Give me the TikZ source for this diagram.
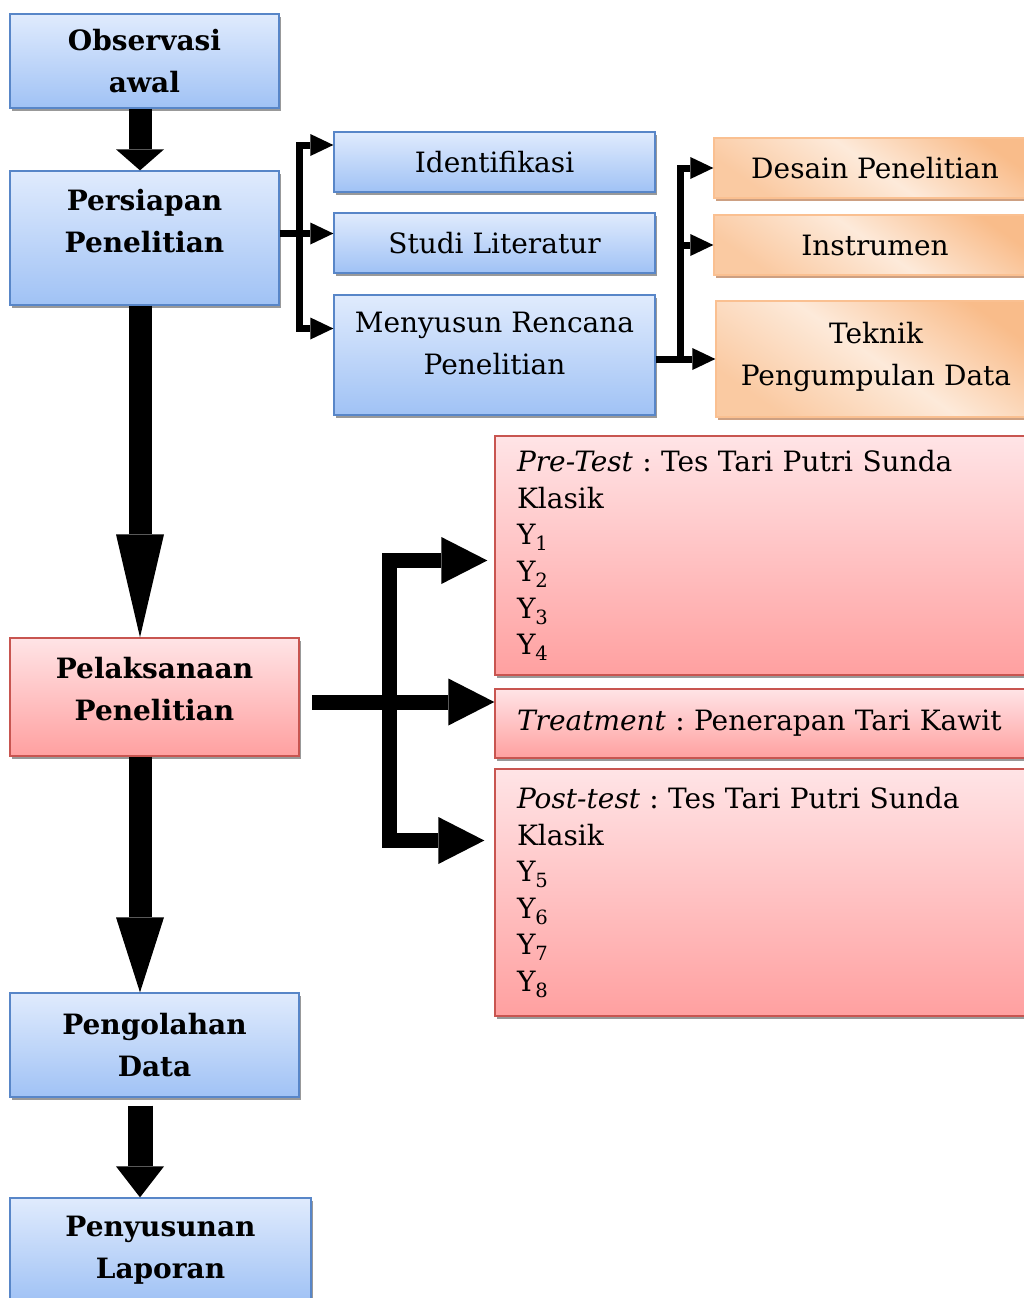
\documentclass[tikz,border=0pt]{standalone}
\usepackage{fontspec}
\setmainfont{DejaVu Serif}
\usetikzlibrary{arrows.meta,shadows,calc}
\frenchspacing

\definecolor{biruAtas}{RGB}{224,235,253}
\definecolor{biruBawah}{RGB}{160,194,245}
\definecolor{biruGaris}{RGB}{88,134,200}
\definecolor{merahAtas}{RGB}{255,228,230}
\definecolor{merahBawah}{RGB}{255,160,160}
\definecolor{merahGaris}{RGB}{200,85,80}
\definecolor{oranyeTua}{RGB}{249,188,138}
\definecolor{oranyeMuda}{RGB}{253,234,218}
\definecolor{oranyeGaris}{RGB}{250,192,145}
\definecolor{oranyeBayang}{RGB}{205,160,130}

\tikzset{
  bayang/.style={drop shadow={shadow xshift=1.5pt, shadow yshift=-3pt, fill=black!40, opacity=1}},
  kotak/.style={draw=biruGaris, line width=1.3pt, top color=biruAtas, bottom color=biruBawah,
    bayang, align=center, inner sep=0pt, font=\fontsize{28}{42}\selectfont},
  judul/.style={kotak, font=\fontsize{28}{42}\selectfont\bfseries},
  oranye/.style={draw=oranyeGaris, line width=1.3pt, top color=oranyeTua, bottom color=oranyeTua!70!oranyeMuda,
    middle color=oranyeMuda, shading angle=-35,
    drop shadow={shadow xshift=1.5pt, shadow yshift=-3pt, fill=oranyeBayang, opacity=1},
    align=center, inner sep=0pt, font=\fontsize{28}{42}\selectfont},
  merah/.style={draw=merahGaris, line width=1.3pt, top color=merahAtas, bottom color=merahBawah,
    bayang, align=left, inner xsep=22pt, inner ysep=0pt, text width=500pt, minimum width=544pt,
    font=\fontsize{28}{36.6}\selectfont},
  judulmerah/.style={judul, draw=merahGaris, top color=merahAtas, bottom color=merahBawah},
  % ujung panah
  ujungkecil/.tip={Triangle[width=22pt, length=23pt, line width=0pt]},
  ujungmerah/.tip={Triangle[width=47pt, length=46pt, line width=0pt]},
  % panah blok besar
  panah/.style={line width=23pt, -{Triangle[width=48pt, length=#1, line width=0pt]}},
  % panah cabang
  cabang/.style={line width=7pt, line join=miter},
  cabangmerah/.style={line width=15pt, line join=miter}
}

\begin{document}
\begin{tikzpicture}[x=1pt,y=-1pt]
\clip (0,0) rectangle (1024,1298);

% kolom kiri
\node[judul, minimum width=269pt, minimum height=94pt] (obs) at (144.5,61) {Observasi\\awal};
\node[judul, minimum width=269pt, minimum height=134pt] (pers) at (144.5,238) {Persiapan\\Penelitian\\[-8pt]\mbox{}};
\node[judulmerah, minimum width=289pt, minimum height=118pt] (pelak) at (154.5,697) {Pelaksanaan\\Penelitian\\[-26pt]\mbox{}};
\node[judul, minimum width=289pt, minimum height=104pt] (olah) at (154.5,1045) {Pengolahan\\Data};
\node[judul, minimum width=301pt, minimum height=104pt] (susun) at (160.5,1250) {Penyusunan\\Laporan};

% persiapan
\node[kotak, minimum width=321pt, minimum height=60pt] (iden) at (494.5,162) {Identifikasi};
\node[kotak, minimum width=321pt, minimum height=60pt] (studi) at (494.5,243) {Studi Literatur};
\node[kotak, minimum width=321pt, minimum height=120pt] (rencana) at (494.5,355) {Menyusun Rencana\\Penelitian\\[-18pt]\mbox{}};

% rencana penelitian
\node[oranye, minimum width=322pt, minimum height=60pt] (desain) at (875,168) {Desain Penelitian};
\node[oranye, minimum width=322pt, minimum height=60pt] (instr) at (875,245) {Instrumen};
\node[oranye, minimum width=320pt, minimum height=116pt] (teknik) at (876,359) {Teknik\\Pengumpulan Data\\[-32pt]\mbox{}};

% pelaksanaan
\node[merah, minimum height=239pt] (pre) at (767,555.5) {\textit{Pre-Test} : Tes Tari Putri Sunda\\Klasik\\
  Y\textsubscript{1}\\Y\textsubscript{2}\\Y\textsubscript{3}\\Y\textsubscript{4}};
\node[merah, minimum height=69pt] (treat) at (767,723.5) {\textit{Treatment} : Penerapan Tari Kawit};
\node[merah, minimum height=247pt] (post) at (767,892.5) {\textit{Post-test} : Tes Tari Putri Sunda\\Klasik\\
  Y\textsubscript{5}\\Y\textsubscript{6}\\Y\textsubscript{7}\\Y\textsubscript{8}};

% panah utama
\coordinate (ax) at (140,0);
\draw[panah=21pt] (obs.south -| ax) -- (pers.north -| ax);
\draw[panah=103pt] (pers.south -| ax) -- (pelak.north -| ax);
\draw[panah=75pt] (pelak.south -| ax) -- (olah.north -| ax);
\draw[panah=31pt, line width=25pt] ([yshift=-8pt]olah.south -| ax) -- (susun.north -| ax);

% cabang persiapan
\coordinate (pt) at (299.5,145);
\coordinate (pb) at (299.5,328.5);
\coordinate (pj) at (299.5,233.5);
\draw[cabang, ujungkecil-ujungkecil] (iden.west |- pt) -- (pt) -- (pb) -- (rencana.west |- pb);
\draw[cabang, -ujungkecil] (pers.east |- pj) -- (studi.west |- pj);

% cabang rencana
\coordinate (ox) at (680,0);
\draw[cabang, ujungkecil-] (desain.west) -- (desain.west -| ox) -- (teknik.west -| ox);
\draw[cabang, -ujungkecil] (instr.west -| ox) -- (instr.west);
\draw[cabang, -ujungkecil] (rencana.east |- teknik.west) -- (teknik.west);

% cabang pelaksanaan
\coordinate (rt) at (389.5,560.5);
\coordinate (rb) at (389.5,840.5);
\coordinate (rj) at (312,702);
\draw[cabangmerah, ujungmerah-ujungmerah, shorten <=7pt, shorten >=10pt]
  (pre.west |- rt) -- (rt) -- (rb) -- (post.west |- rb);
\draw[cabangmerah, -ujungmerah] (rj) -- (treat.west |- rj);

\end{tikzpicture}
\end{document}
